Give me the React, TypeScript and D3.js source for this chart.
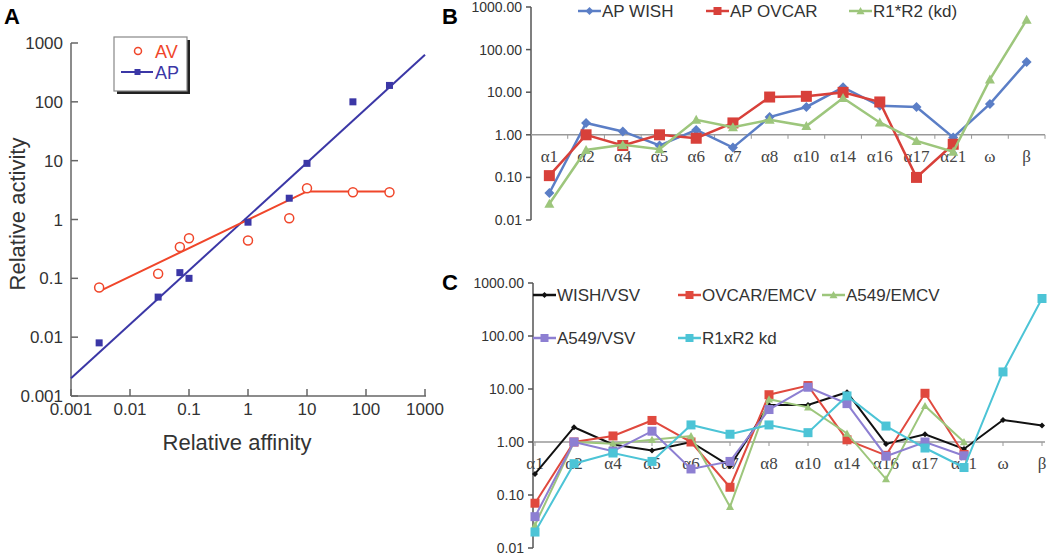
import React from "react";
import * as d3 from "d3";

// ---- Panel A: activity vs affinity ----
const affinity = [0.003, 0.03, 0.07, 0.1, 1, 5, 10, 60, 250];
const avActivity = [0.07, 0.12, 0.34, 0.48, 0.44, 1.05, 3.4, 2.9, 2.9];
const apActivity = [0.008, 0.048, 0.125, 0.1, 0.9, 2.3, 9, 100, 190];
const avFit: [number, number][] = [[0.003, 0.06], [10, 3], [250, 3]];
const apFit: [number, number][] = [[0.001, 0.002], [1000, 630]];
const aTicks = [0.001, 0.01, 0.1, 1, 10, 100, 1000];

// ---- Panels B and C: subtypes ----
const subtypes = ["α1", "α2", "α4", "α5", "α6", "α7", "α8", "α10", "α14", "α16", "α17", "α21", "ω", "β"];
const logTicks = [0.01, 0.1, 1, 10, 100, 1000];

const apWish = [0.043, 1.9, 1.2, 0.56, 1.3, 0.5, 2.6, 4.5, 13, 4.8, 4.5, 0.87, 5.3, 51];
const apOvcar = [0.11, 1.0, 0.56, 1.0, 0.83, 1.9, 7.7, 8, 9.9, 5.9, 0.1, 0.6];
const r1r2Kd = [0.024, 0.44, 0.58, 0.46, 2.25, 1.5, 2.25, 1.6, 7.3, 1.95, 0.72, 0.4, 20, 500];

const wishVsv = [0.25, 1.9, 0.9, 0.69, 1.0, 0.35, 5.0, 5.0, 8.7, 0.92, 1.4, 0.74, 2.6, 2.05];
const ovcarEmcv = [0.07, 1.0, 1.3, 2.55, 1.0, 0.14, 7.8, 11.6, 1.1, 0.56, 8.3, 0.58];
const a549Emcv = [0.027, 1.0, 0.93, 1.1, 1.3, 0.06, 6.4, 4.5, 1.45, 0.2, 4.8, 1.0];
const a549Vsv = [0.039, 1.0, 0.67, 1.6, 0.31, 0.43, 4.1, 10.8, 5.3, 0.54, 1.0, 0.55];
const r1xr2Kd = [0.02, 0.39, 0.62, 0.43, 2.1, 1.4, 2.1, 1.5, 7.4, 2.0, 0.77, 0.33, 21, 510];

type MarkerType = "diamond" | "square" | "triangle";

const Marker = ({ type, x, y, s, color }: { type: MarkerType; x: number; y: number; s: number; color: string }) => {
  if (type === "square") return <rect x={x - s} y={y - s} width={2 * s} height={2 * s} fill={color} />;
  if (type === "diamond")
    return <polygon points={`${x},${y - s} ${x + s},${y} ${x},${y + s} ${x - s},${y}`} fill={color} />;
  return <polygon points={`${x},${y - s} ${x + s},${y + s * 0.8} ${x - s},${y + s * 0.8}`} fill={color} />;
};

const sans = "'Liberation Sans', Arial, sans-serif";
const serif = "'Liberation Serif', 'DejaVu Serif', serif";

const PanelA = () => {
  const x = d3.scaleLog().domain([0.001, 1000]).range([71, 425]);
  const y = d3.scaleLog().domain([0.001, 1000]).range([396, 43]);
  const line = d3.line<[number, number]>().x((d) => x(d[0])).y((d) => y(d[1]));
  const red = "#f0462a";
  const blue = "#3b37a6";
  const fmt = d3.format("~g");
  return (
    <g fontFamily={sans}>
      <text x={4} y={24} fontSize={22} fontWeight="bold">A</text>
      {/* axes */}
      <line x1={71} x2={71} y1={43} y2={396} stroke="#666" strokeWidth={1.5} />
      <line x1={71} x2={426} y1={396} y2={396} stroke="#666" strokeWidth={1.5} />
      {aTicks.map((t) => (
        <g key={"y" + t}>
          <line x1={71} x2={78} y1={y(t)} y2={y(t)} stroke="#666" strokeWidth={1.5} />
          <text x={63} y={y(t) + 6} fontSize={17} fill="#333" textAnchor="end">{fmt(t)}</text>
        </g>
      ))}
      {aTicks.map((t) => (
        <g key={"x" + t}>
          <line x1={x(t)} x2={x(t)} y1={396} y2={389} stroke="#666" strokeWidth={1.5} />
          <text x={x(t)} y={415} fontSize={17} fill="#333" textAnchor="middle">{fmt(t)}</text>
        </g>
      ))}
      <text x={237} y={450} fontSize={22} fill="#333" textAnchor="middle">Relative affinity</text>
      <text transform="translate(25,214) rotate(-90)" fontSize={22} fill="#333" textAnchor="middle">Relative activity</text>
      {/* fits */}
      <path d={line(apFit) ?? ""} fill="none" stroke={blue} strokeWidth={2} />
      <path d={line(avFit) ?? ""} fill="none" stroke={red} strokeWidth={2} />
      {affinity.map((a, i) => (
        <rect key={"ap" + i} x={x(a) - 3.5} y={y(apActivity[i]) - 3.5} width={7} height={7} fill={blue} />
      ))}
      {affinity.map((a, i) => (
        <circle key={"av" + i} cx={x(a)} cy={y(avActivity[i])} r={4.5} fill="white" stroke={red} strokeWidth={1.5} />
      ))}
      {/* legend */}
      <rect x={117} y={40} width={73} height={54} fill="#222" />
      <rect x={114} y={37} width={73} height={54} fill="white" stroke="#888" strokeWidth={1.2} />
      <circle cx={138} cy={51} r={3.5} fill="white" stroke={red} strokeWidth={1.5} />
      <text x={155} y={58} fontSize={18} fill={red}>AV</text>
      <line x1={121} x2={153} y1={72} y2={72} stroke={blue} strokeWidth={2} />
      <rect x={134.5} y={69} width={6} height={6} fill={blue} />
      <text x={155} y={79} fontSize={18} fill={blue}>AP</text>
    </g>
  );
};

interface Series {
  name: string;
  values: number[];
  color: string;
  marker: MarkerType;
  size: number;
  width: number;
}

const SubtypePanel = ({
  label,
  labelY,
  yRange,
  xMode,
  series,
  legend,
}: {
  label: string;
  labelY: number;
  yRange: [number, number];
  xMode: "band" | "point";
  series: Series[];
  legend: { x: number; y: number }[];
}) => {
  const axisX = xMode === "band" ? 531 : 533;
  const y = d3.scaleLog().domain([0.01, 1000]).range(yRange);
  const band = d3.scaleBand().domain(subtypes).range([531, 1045]);
  const point = d3.scalePoint().domain(subtypes).range([535, 1042]);
  const xPos = (c: string) => (xMode === "band" ? band(c)! + band.bandwidth() / 2 : point(c)!);
  const y1 = y(1);
  const fmt = d3.format(".2f");
  const tickXs =
    xMode === "band" ? subtypes.map((c) => band(c)! + band.bandwidth()) : subtypes.map((c) => point(c)!);
  return (
    <g>
      <text x={442} y={labelY} fontSize={22} fontWeight="bold" fontFamily={sans}>{label}</text>
      <line x1={axisX} x2={axisX} y1={yRange[1]} y2={yRange[0]} stroke="#555" strokeWidth={1.5} />
      {logTicks.map((t) => (
        <g key={t}>
          <line x1={axisX - 5} x2={axisX} y1={y(t)} y2={y(t)} stroke="#555" strokeWidth={1.5} />
          <text x={axisX - 9} y={y(t) + 5} fontSize={14} fill="#333" textAnchor="end" fontFamily={sans}>
            {fmt(t)}
          </text>
        </g>
      ))}
      <line x1={axisX} x2={1045} y1={y1} y2={y1} stroke="#999" strokeWidth={1.5} />
      {tickXs.map((tx, i) => (
        <line key={i} x1={tx} x2={tx} y1={y1} y2={y1 + 4} stroke="#999" strokeWidth={1} />
      ))}
      {subtypes.map((c) => (
        <text key={c} x={xPos(c)} y={y1 + 27} fontSize={17} fill="#444" textAnchor="middle" fontFamily={serif}>
          {c}
        </text>
      ))}
      {series.map((s) => {
        const pts = s.values.map((v, i) => [xPos(subtypes[i]), y(v)] as [number, number]);
        return (
          <g key={s.name}>
            <path d={d3.line()(pts) ?? ""} fill="none" stroke={s.color} strokeWidth={s.width} />
            {pts.map((p, i) => (
              <Marker key={i} type={s.marker} x={p[0]} y={p[1]} s={s.size} color={s.color} />
            ))}
          </g>
        );
      })}
      {series.map((s, i) => (
        <g key={"lg" + s.name}>
          <line x1={legend[i].x} x2={legend[i].x + 23} y1={legend[i].y} y2={legend[i].y} stroke={s.color} strokeWidth={2.5} />
          <Marker type={s.marker} x={legend[i].x + 11.5} y={legend[i].y} s={Math.min(s.size, 4)} color={s.color} />
          <text x={legend[i].x + 24} y={legend[i].y + 6} fontSize={17} fill="#333" fontFamily={sans}>
            {s.name}
          </text>
        </g>
      ))}
    </g>
  );
};

const App = () => {
  const bSeries: Series[] = [
    { name: "AP WISH", values: apWish, color: "#5b7ec6", marker: "diamond", size: 5, width: 2.5 },
    { name: "AP OVCAR", values: apOvcar, color: "#d8403a", marker: "square", size: 5.5, width: 2.5 },
    { name: "R1*R2 (kd)", values: r1r2Kd, color: "#9dc67c", marker: "triangle", size: 5, width: 2.5 },
  ];
  const cSeries: Series[] = [
    { name: "WISH/VSV", values: wishVsv, color: "#111111", marker: "diamond", size: 3, width: 2 },
    { name: "OVCAR/EMCV", values: ovcarEmcv, color: "#e0493e", marker: "square", size: 4.5, width: 2 },
    { name: "A549/EMCV", values: a549Emcv, color: "#9dc67c", marker: "triangle", size: 4, width: 2 },
    { name: "A549/VSV", values: a549Vsv, color: "#8d7fd2", marker: "square", size: 4.5, width: 2 },
    { name: "R1xR2 kd", values: r1xr2Kd, color: "#4cc4d6", marker: "square", size: 4.5, width: 2 },
  ];
  return (
    <svg width={1050} height={555} style={{ position: "absolute", left: 0, top: 0, background: "white" }}>
      <PanelA />
      <SubtypePanel
        label="B"
        labelY={24}
        yRange={[220, 7]}
        xMode="band"
        series={bSeries}
        legend={[{ x: 578, y: 11 }, { x: 706, y: 11 }, { x: 849, y: 11 }]}
      />
      <SubtypePanel
        label="C"
        labelY={290}
        yRange={[548, 283]}
        xMode="point"
        series={cSeries}
        legend={[
          { x: 533, y: 295 },
          { x: 678, y: 295 },
          { x: 822, y: 295 },
          { x: 533, y: 338 },
          { x: 678, y: 338 },
        ]}
      />
    </svg>
  );
};

export default App;
